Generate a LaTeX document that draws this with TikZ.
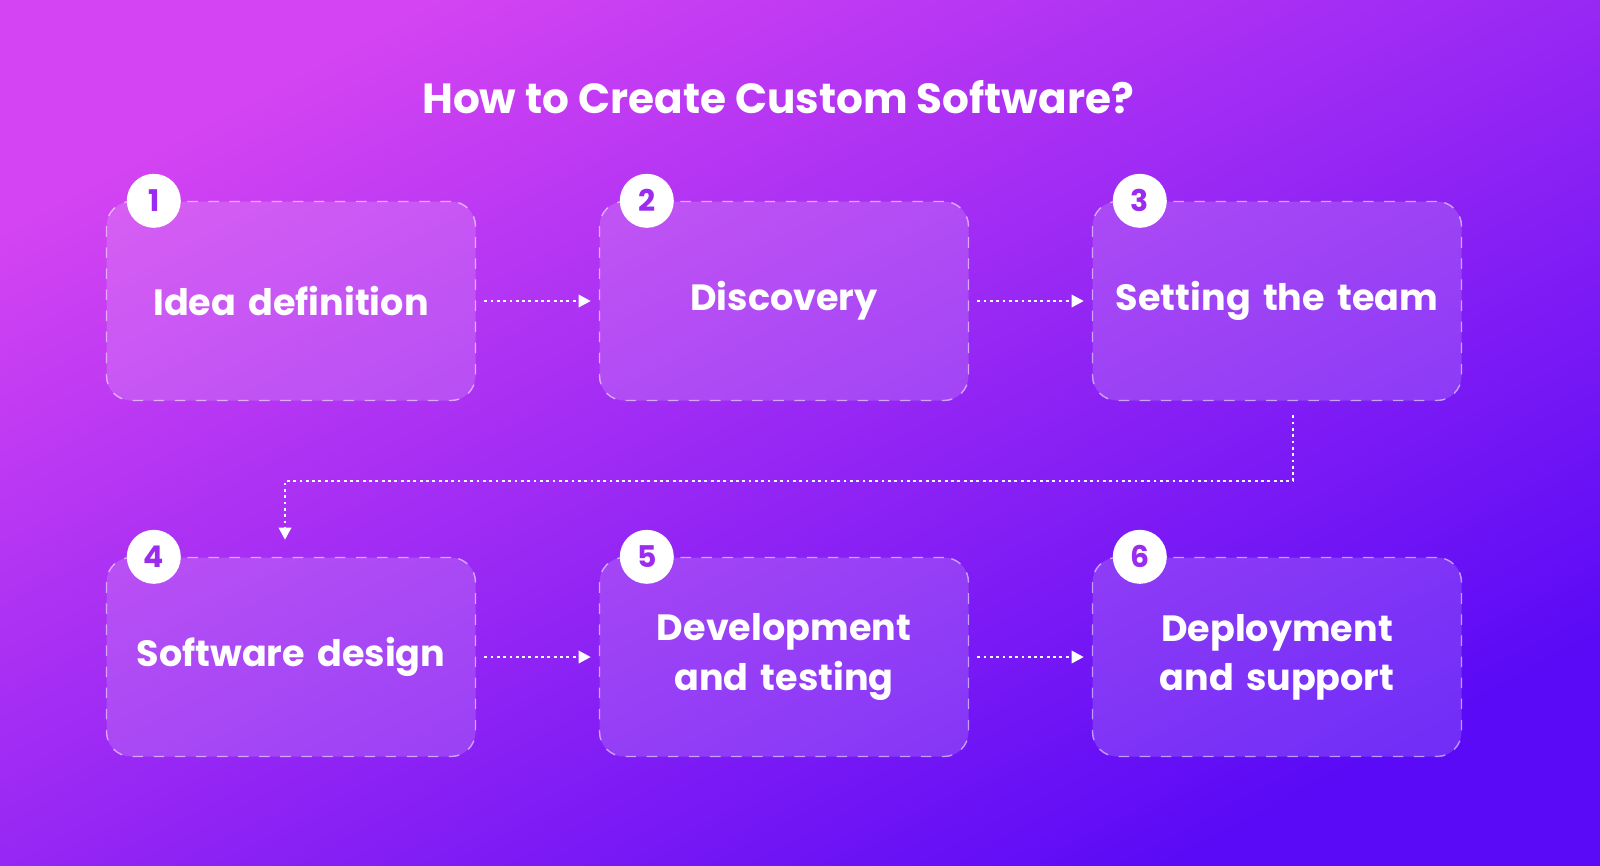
\documentclass[tikz,border=0pt]{standalone}
\usepackage{fontspec}
\setmainfont{Poppins}
\usetikzlibrary{arrows.meta}
\definecolor{bgA}{HTML}{D444F2}
\definecolor{bgB}{HTML}{9A22F2}
\definecolor{bgC}{HTML}{5A0AF6}
\definecolor{numcol}{HTML}{9B2BEF}
\tikzset{>/.tip={Triangle[width=3.5pt,length=3.5pt]},
  stepbox/.style={draw=white, draw opacity=0.55, dashed, fill=white, fill opacity=0.15,
    text opacity=1, rounded corners=7pt, minimum width=3.69cm, minimum height=1.99cm,
    text width=3.5cm, inner sep=0pt, text=white,
    font=\fontsize{10.4}{14}\selectfont\bfseries, align=center},
  badge/.style={circle, fill=white, minimum size=0.54cm, inner sep=0pt,
    text=numcol, font=\fontsize{8.5}{10}\selectfont\bfseries},
  flow/.style={->, white, densely dotted, thick}}

\begin{document}
\begin{tikzpicture}
\useasboundingbox (0,0) rectangle (16,-8.65);
\shade[shading=axis, left color=bgA, middle color=bgB, right color=bgC, shading angle=28]
  (0,0) rectangle (16,-8.65);
\node[text=white, font=\fontsize{12}{14}\selectfont\bfseries] (title) at (7.78,-0.97) {How to Create Custom Software?};

\node[stepbox] (1) at (2.91,-3.01) {Idea definition};
\node[stepbox] (2) at (7.84,-3.01) {Discovery};
\node[stepbox] (3) at (12.77,-3.01) {Setting the team};
\node[stepbox] (4) at (2.91,-6.57) {Software design};
\node[stepbox] (5) at (7.84,-6.57) {Development\\and testing};
\node[stepbox] (6) at (12.77,-6.57) {Deployment\\and support};

\foreach \i in {1,...,6}
  \node[badge] (b\i) at ([xshift=0.48cm]\i.north west) {\i};

\draw[flow] ([xshift=0.08cm]1.east) -- ([xshift=-0.08cm]2.west);
\draw[flow] ([xshift=0.08cm]2.east) -- ([xshift=-0.08cm]3.west);
\draw[flow] ([xshift=0.08cm]4.east) -- ([xshift=-0.08cm]5.west);
\draw[flow] ([xshift=0.08cm]5.east) -- ([xshift=-0.08cm]6.west);
\draw[flow] ([xshift=0.16cm,yshift=-0.14cm]3.south) |- (2.85,-4.81) -- ([xshift=-0.06cm,yshift=0.17cm]4.north);
\end{tikzpicture}
\end{document}
